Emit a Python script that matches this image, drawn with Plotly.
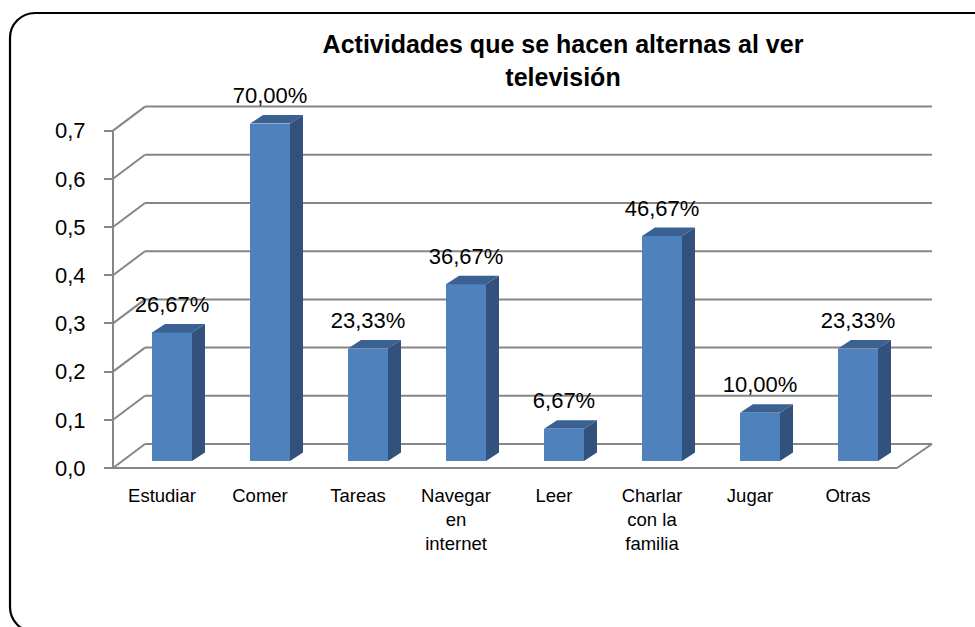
import plotly.graph_objects as go

# ---------------- data ----------------
categories = ["Estudiar", "Comer", "Tareas", "Navegar<br>en<br>internet", "Leer",
              "Charlar<br>con la<br>familia", "Jugar", "Otras"]
values = [0.2667, 0.70, 0.2333, 0.3667, 0.0667, 0.4667, 0.10, 0.2333]
y_tick_values = [0.0, 0.1, 0.2, 0.3, 0.4, 0.5, 0.6, 0.7]
y_tick_labels = ["0,0", "0,1", "0,2", "0,3", "0,4", "0,5", "0,6", "0,7"]
title_text = "Actividades que se hacen alternas al ver<br>televisión"

# ---------------- geometry (pixel -> axis units) ----------------
W, H = 975, 627
PX_X = 98.0     # pixels per category
PX_Y = 482.0    # pixels per unit value
X0_PX = 113.0   # pixel x of left edge of category band
Y0_PX = 468.0   # pixel y of value 0 on front plane

xmin = -0.5 - X0_PX / PX_X
xmax = xmin + W / PX_X
ymax = Y0_PX / PX_Y
ymin = -(H - Y0_PX) / PX_Y

n = len(categories)
x_left = -0.5
x_right = n - 0.5
DX_L = 32 / PX_X
DX_R = 35 / PX_X
DY = 24 / PX_Y

BAR_SHIFT = 10 / PX_X
BAR_BASE = 7 / PX_Y
BAR_W = 40 / PX_X
BAR_DDX = 13 / PX_X
BAR_DDY = 8.5 / PX_Y
LABEL_OFF = 26 / PX_Y

GRID = "#868686"
FRONT = "#4F81BD"
SIDE = "#32527D"
TOP = "#3B6193"
FONT = "Liberation Sans"

fig = go.Figure()

# front faces of the bars
bar_x = [i + BAR_SHIFT for i in range(n)]
fig.add_trace(go.Bar(x=bar_x, y=values, base=BAR_BASE, width=BAR_W,
                     marker=dict(color=FRONT, line=dict(width=0)),
                     showlegend=False, hoverinfo="skip"))

# side and top faces
sx, sy, tx, ty = [], [], [], []
for i, v in enumerate(values):
    xl = bar_x[i] - BAR_W / 2
    xr = bar_x[i] + BAR_W / 2
    b = BAR_BASE
    t = BAR_BASE + v
    sx += [xr, xr + BAR_DDX, xr + BAR_DDX, xr, xr, None]
    sy += [b, b + BAR_DDY, t + BAR_DDY, t, b, None]
    tx += [xl, xl + BAR_DDX, xr + BAR_DDX, xr, xl, None]
    ty += [t, t + BAR_DDY, t + BAR_DDY, t, t, None]
fig.add_trace(go.Scatter(x=sx, y=sy, mode="lines", fill="toself", fillcolor=SIDE,
                         line=dict(width=0, color=SIDE), showlegend=False, hoverinfo="skip"))
fig.add_trace(go.Scatter(x=tx, y=ty, mode="lines", fill="toself", fillcolor=TOP,
                         line=dict(width=0, color=TOP), showlegend=False, hoverinfo="skip"))

# data labels
fig.add_trace(go.Scatter(
    x=bar_x, y=[BAR_BASE + v + LABEL_OFF for v in values], mode="text",
    text=[f"{v*100:.2f}%".replace(".", ",") for v in values],
    textposition="middle center", textfont=dict(family=FONT, size=22, color="black"),
    showlegend=False, hoverinfo="skip", cliponaxis=False))

shapes = []
# back wall gridlines and left diagonals
for v in y_tick_values:
    shapes.append(dict(type="line", xref="x", yref="y", layer="below",
                       x0=x_left + DX_L, y0=v + DY, x1=x_right + DX_R, y1=v + DY,
                       line=dict(color=GRID, width=2)))
    shapes.append(dict(type="line", xref="x", yref="y", layer="below",
                       x0=x_left, y0=v, x1=x_left + DX_L, y1=v + DY,
                       line=dict(color=GRID, width=2)))
# floor: front edge and right diagonal
shapes.append(dict(type="line", xref="x", yref="y", layer="below",
                   x0=x_left, y0=0, x1=x_right, y1=0, line=dict(color=GRID, width=2)))
shapes.append(dict(type="line", xref="x", yref="y", layer="below",
                   x0=x_right, y0=0, x1=x_right + DX_R, y1=DY, line=dict(color=GRID, width=2)))
# vertical value axis line
shapes.append(dict(type="line", xref="x", yref="y", layer="below",
                   x0=x_left, y0=y_tick_values[0], x1=x_left, y1=y_tick_values[-1],
                   line=dict(color=GRID, width=2)))

# rounded chart frame (paper coords from pixels)
def P(px, py):
    return f"{px / W:.5f},{1 - py / H:.5f}"
r = 25
k = 0.5523 * r
L, T, B = 10, 13, 632
frame_path = (f"M {P(L + r, B)} C {P(L + r - k, B)} {P(L, B - r + k)} {P(L, B - r)} "
              f"L {P(L, T + r)} C {P(L, T + r - k)} {P(L + r - k, T)} {P(L + r, T)} "
              f"L {P(W + 30, T)}")
shapes.append(dict(type="path", xref="paper", yref="paper", path=frame_path,
                   line=dict(color="black", width=2.2)))

fig.update_layout(
    width=W, height=H, margin=dict(l=0, r=0, t=0, b=0),
    paper_bgcolor="white", plot_bgcolor="white",
    showlegend=False, shapes=shapes,
    title=dict(text=title_text, x=563 / W, xanchor="center", xref="paper",
               y=1 - 53 / H, yanchor="top", yref="container",
               font=dict(family=FONT, size=25, color="black", weight="bold")),
    xaxis=dict(range=[xmin, xmax], domain=[0, 1], anchor="free",
               position=(H - Y0_PX) / H, tickmode="array",
               tickvals=list(range(n)), ticktext=categories, ticks="",
               showgrid=False, zeroline=False, showline=False,
               tickfont=dict(family=FONT, size=18.5, color="black"),
               ticklabelstandoff=14, fixedrange=True),
    xaxis2=dict(range=[xmin, xmax], overlaying="x", anchor="free",
                position=(H - Y0_PX) / H, tickmode="array",
                tickvals=[i - 0.5 for i in range(n + 1)], ticks="outside",
                ticklen=6, tickwidth=2, tickcolor=GRID, showticklabels=False,
                showgrid=False, zeroline=False, showline=False),
    yaxis=dict(range=[ymin, ymax], domain=[0, 1], anchor="free",
               position=X0_PX / W, tickmode="array",
               tickvals=y_tick_values, ticktext=y_tick_labels,
               ticks="outside", ticklen=9, tickwidth=2, tickcolor=GRID,
               showgrid=False, zeroline=False, showline=False,
               tickfont=dict(family=FONT, size=22, color="black"),
               ticklabelstandoff=14, fixedrange=True),
    bargap=0,
)

fig.write_html("out.html", config={"displayModeBar": False},
               post_script="document.body.style.margin='0';document.body.style.padding='0';")
